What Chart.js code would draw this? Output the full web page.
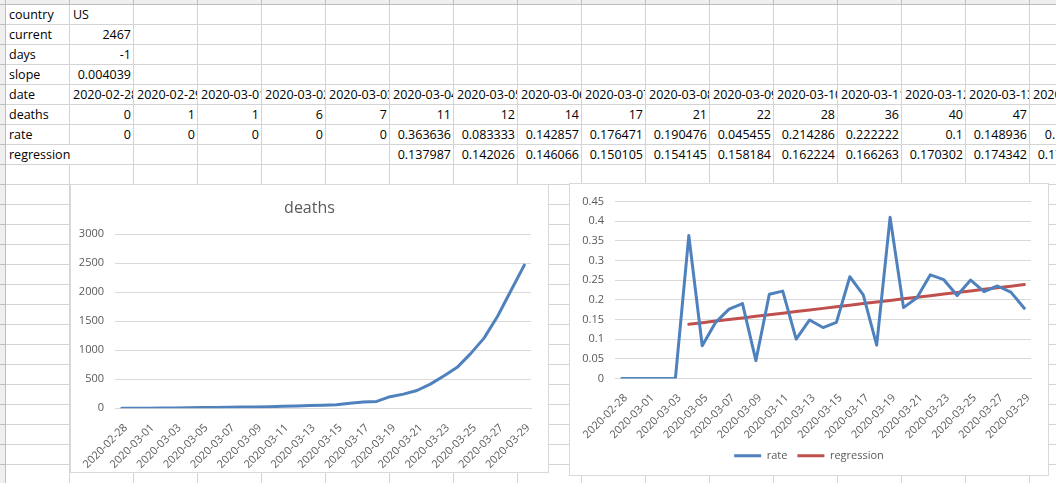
<!DOCTYPE html>
<html>
<head>
<meta charset="utf-8">
<script src="https://cdn.jsdelivr.net/npm/chart.js@4.4.1/dist/chart.umd.min.js"></script>
<style>
  body { margin: 0; width: 1056px; height: 483px; overflow: hidden; background: #fff; position: relative; font-family: 'Open Sans', sans-serif; }
  .c { position: absolute; box-sizing: border-box; height: 20px; border-right: 1px solid #d4d4d4; border-bottom: 1px solid #d4d4d4;
       font-size: 12.5px; line-height: 19px; white-space: nowrap; overflow: hidden; padding: 0 3px; color: #000; }
  .n { text-align: right; padding-right: 2px; }
  .hd { position: absolute; box-sizing: border-box; background: #efefef; border-right: 1px solid #bdbdbd; border-bottom: 1px solid #bdbdbd; }
  .box { position: absolute; background: #fff; border: 1px solid #d9d9d9; box-sizing: border-box; z-index: 2; }
  .box canvas { position: absolute; left: 0; top: 0; }
</style>
</head>
<body>
<div id="sheet"></div>
<div class="box" style="left:70px;top:184px;width:479px;height:289px"><canvas id="deathsChart" width="477" height="287"></canvas></div>
<div class="box" style="left:569px;top:183px;width:480px;height:293px"><canvas id="rateChart" width="478" height="291"></canvas></div>
<script>
const dates = ['2020-02-28', '2020-02-29', '2020-03-01', '2020-03-02', '2020-03-03', '2020-03-04', '2020-03-05',
  '2020-03-06', '2020-03-07', '2020-03-08', '2020-03-09', '2020-03-10', '2020-03-11', '2020-03-12', '2020-03-13',
  '2020-03-14', '2020-03-15', '2020-03-16', '2020-03-17', '2020-03-18', '2020-03-19', '2020-03-20', '2020-03-21',
  '2020-03-22', '2020-03-23', '2020-03-24', '2020-03-25', '2020-03-26', '2020-03-27', '2020-03-28', '2020-03-29'];
const deaths = [0, 1, 1, 6, 7, 11, 12, 14, 17, 21, 22, 28, 36, 40, 47, 54, 63, 85, 108, 118, 200, 244, 307,
  417, 557, 706, 942, 1209, 1581, 2026, 2467];
const rate = [0, 0, 0, 0, 0, 0.363636, 0.083333, 0.142857, 0.176471, 0.190476, 0.045455, 0.214286, 0.222222, 0.1,
  0.148936, 0.12963, 0.142857, 0.258824, 0.212963, 0.084746, 0.41, 0.180328, 0.205212, 0.263789, 0.251346,
  0.211048, 0.250531, 0.220844, 0.235294, 0.219645, 0.17876];
const regression = [null, null, null, null, null, 0.137987, 0.142026, 0.146066, 0.150105, 0.154145, 0.158184,
  0.162224, 0.166263, 0.170302, 0.174342, 0.178381, 0.182421, 0.18646, 0.1905, 0.194539, 0.198578, 0.202618,
  0.206657, 0.210697, 0.214736, 0.218776, 0.222815, 0.226854, 0.230894, 0.234933, 0.238973];
const deathsTicks = [0, 500, 1000, 1500, 2000, 2500, 3000];
const rateTicks = [0, 0.05, 0.1, 0.15, 0.2, 0.25, 0.3, 0.35, 0.4, 0.45];
const rateTickLabels = ['0', '0.05', '0.1', '0.15', '0.2', '0.25', '0.3', '0.35', '0.4', '0.45'];
const info = [['country', 'US'], ['current', 2467], ['days', -1], ['slope', 0.004039]];

const BLUE = '#4F81BD';
const RED = '#C0504D';
const TXT = '#595959';
const GRID = '#d9d9d9';

// ---- the spreadsheet behind the charts ----
const COLW = 64, ROWH = 20, X0 = 6, Y0 = 5, NCOLS = 17, NROWS = 24;
const sheet = document.getElementById('sheet');

function fmt(v) { return String(+v.toFixed(6)); }

function cell(r, c, text, isNum, span) {
  const d = document.createElement('div');
  d.className = 'c' + (isNum ? ' n' : '');
  d.style.left = (X0 + c * COLW) + 'px';
  d.style.top = (Y0 + r * ROWH) + 'px';
  d.style.width = (COLW * (span || 1)) + 'px';
  if (text !== undefined && text !== null) d.textContent = text;
  sheet.appendChild(d);
}

// header strips
for (let c = -1; c < NCOLS; c++) {
  const h = document.createElement('div');
  h.className = 'hd';
  h.style.left = (c < 0 ? 0 : X0 + c * COLW) + 'px';
  h.style.top = '0px';
  h.style.width = (c < 0 ? X0 : COLW) + 'px';
  h.style.height = Y0 + 'px';
  sheet.appendChild(h);
}
for (let r = 0; r < NROWS; r++) {
  const h = document.createElement('div');
  h.className = 'hd';
  h.style.left = '0px';
  h.style.top = (Y0 + r * ROWH) + 'px';
  h.style.width = X0 + 'px';
  h.style.height = ROWH + 'px';
  sheet.appendChild(h);
}

for (let r = 0; r < NROWS; r++) {
  if (r < 4) {
    cell(r, 0, info[r][0]);
    cell(r, 1, typeof info[r][1] === 'number' ? fmt(info[r][1]) : info[r][1], typeof info[r][1] === 'number');
    for (let c = 2; c < NCOLS; c++) cell(r, c);
  } else if (r === 4) {
    cell(r, 0, 'date');
    for (let c = 1; c < NCOLS; c++) cell(r, c, dates[c - 1]);
  } else if (r === 5) {
    cell(r, 0, 'deaths');
    for (let c = 1; c < NCOLS; c++) cell(r, c, fmt(deaths[c - 1]), true);
  } else if (r === 6) {
    cell(r, 0, 'rate');
    for (let c = 1; c < NCOLS; c++) cell(r, c, fmt(rate[c - 1]), true);
  } else if (r === 7) {
    cell(r, 0, 'regression', false, 2);
    for (let c = 2; c < NCOLS; c++) {
      const v = regression[c - 1];
      cell(r, c, v === null ? null : fmt(v), true);
    }
  } else {
    for (let c = 0; c < NCOLS; c++) cell(r, c);
  }
}

// ---- charts ----
Chart.defaults.font.family = "'Open Sans', sans-serif";
Chart.defaults.color = TXT;

function xScale(height) {
  return {
    offset: true,
    grid: { display: false, offset: true },
    border: { display: true, color: GRID, width: 1 },
    ticks: {
      autoSkip: false, maxRotation: 45, minRotation: 45, padding: 5, labelOffset: 4,
      font: { size: 11 }, color: TXT,
      callback: (v, i) => (i % 2 === 0 ? dates[i] : '')
    },
    afterFit: s => { s.height = height; }
  };
}

function yScale(ticks, labels, width) {
  return {
    min: ticks[0], max: ticks[ticks.length - 1],
    grid: { color: GRID, lineWidth: 1, drawTicks: false },
    border: { display: false },
    ticks: {
      padding: 11, font: { size: 11 }, color: TXT,
      callback: (v, i) => labels[i]
    },
    afterBuildTicks: s => { s.ticks = ticks.map(v => ({ value: v })); },
    afterFit: s => { s.width = width; }
  };
}

// empty right-hand axis, only to keep the plot clear of the right edge
// while title / legend stay centred on the whole chart
function spacer(width) {
  return {
    type: 'linear', position: 'right',
    grid: { display: false }, border: { display: false }, ticks: { display: false },
    afterFit: s => { s.width = width; }
  };
}

function lineSet(label, data, color) {
  return {
    label: label, data: data, borderColor: color, backgroundColor: color,
    borderWidth: 3, pointRadius: 0, tension: 0,
    borderJoinStyle: 'round', borderCapStyle: 'round'
  };
}

new Chart(document.getElementById('deathsChart').getContext('2d'), {
  type: 'line',
  data: { labels: dates, datasets: [lineSet('deaths', deaths, BLUE)] },
  options: {
    responsive: false, animation: false,
    layout: { padding: 0 },
    plugins: {
      legend: { display: false },
      tooltip: { enabled: false },
      title: {
        display: true, text: 'deaths', color: TXT,
        font: { size: 16, weight: 'normal' },
        padding: { top: 14, bottom: 16 }
      }
    },
    scales: {
      x: xScale(63.7),
      y: yScale(deathsTicks, deathsTicks.map(String), 44),
      pad: spacer(17)
    }
  }
});

new Chart(document.getElementById('rateChart').getContext('2d'), {
  type: 'line',
  data: {
    labels: dates,
    datasets: [lineSet('rate', rate, BLUE), lineSet('regression', regression, RED)]
  },
  options: {
    responsive: false, animation: false,
    layout: { padding: { left: 0, right: 0, top: 14.3, bottom: 3.75 } },
    plugins: {
      tooltip: { enabled: false },
      legend: {
        position: 'bottom',
        labels: {
          usePointStyle: true, pointStyle: 'line', pointStyleWidth: 27,
          padding: 10, color: TXT, font: { size: 11 }
        }
      }
    },
    scales: {
      x: xScale(61.75),
      y: yScale(rateTicks, rateTickLabels, 45),
      pad: spacer(17)
    }
  }
});
</script>
</body>
</html>
